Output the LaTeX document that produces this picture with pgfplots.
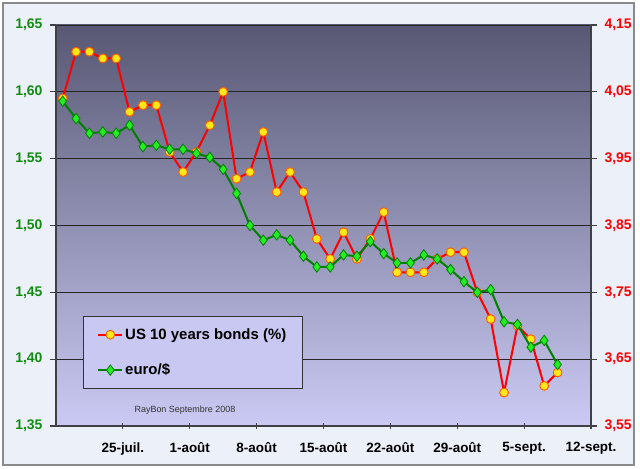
\documentclass[border=0pt]{standalone}
\usepackage{pgfplots}
\pgfplotsset{compat=1.18}
\usepackage{fontspec}
\setmainfont{Liberation Sans}
\definecolor{bgtop}{HTML}{585874}
\definecolor{bgbot}{HTML}{CACAF4}
\definecolor{snow}{HTML}{ECF0F8}
\definecolor{frame}{HTML}{8A8A8A}
\definecolor{axisline}{HTML}{404048}
\definecolor{dgreen}{HTML}{008000}
\definecolor{lgreen}{HTML}{22EE22}
\definecolor{mkyellow}{HTML}{FFE81A}
\definecolor{mkorange}{HTML}{FF5A00}
\definecolor{legfill}{HTML}{C8C8F2}
\definecolor{labgreen}{HTML}{138A13}

\pgfplotstableread{
x bonds
0.5 4.04
1.5 4.11
2.5 4.11
3.5 4.10
4.5 4.10
5.5 4.02
6.5 4.03
7.5 4.03
8.5 3.96
9.5 3.93
10.5 3.96
11.5 4.00
12.5 4.05
13.5 3.92
14.5 3.93
15.5 3.99
16.5 3.90
17.5 3.93
18.5 3.90
19.5 3.83
20.5 3.80
21.5 3.84
22.5 3.80
23.5 3.83
24.5 3.87
25.5 3.78
26.5 3.78
27.5 3.78
28.5 3.80
29.5 3.81
30.5 3.81
31.5 3.75
32.5 3.71
33.5 3.60
34.5 3.70
35.5 3.68
36.5 3.61
37.5 3.63
}\bondtable

\pgfplotstableread{
x euro
0.5 1.593
1.5 1.580
2.5 1.569
3.5 1.570
4.5 1.569
5.5 1.575
6.5 1.559
7.5 1.560
8.5 1.557
9.5 1.557
10.5 1.554
11.5 1.551
12.5 1.542
13.5 1.524
14.5 1.500
15.5 1.489
16.5 1.493
17.5 1.489
18.5 1.477
19.5 1.469
20.5 1.469
21.5 1.478
22.5 1.477
23.5 1.488
24.5 1.479
25.5 1.472
26.5 1.472
27.5 1.478
28.5 1.475
29.5 1.467
30.5 1.458
31.5 1.450
32.5 1.452
33.5 1.428
34.5 1.426
35.5 1.409
36.5 1.414
37.5 1.396
}\eurotable

\begin{document}
\begin{tikzpicture}
\useasboundingbox (-56bp,-43bp) rectangle (584bp,426bp);
\fill[white] (-56bp,-43bp) rectangle (584bp,426bp);
\fill[snow] (-53bp,-39bp) rectangle (578bp,423bp);
\draw[frame, line width=2.5bp] (-53bp,-39bp) rectangle (578bp,423bp);

\begin{axis}[
  at={(0,0)}, anchor=south west,
  scale only axis, width=535bp, height=401bp,
  xmin=0, xmax=40, ymin=3.55, ymax=4.15,
  axis x line*=bottom, axis y line*=right,
  axis line style={-, axisline, line width=1.3bp},
  axis background/.style={top color=bgtop, bottom color=bgbot},
  xtick={5,10,15,20,25,30,35,40},
  xticklabels={25-juil.,1-août,8-août,15-août,22-août,29-août,5-sept.,12-sept.},
  xtick align=center,
  ytick={3.55,3.65,3.75,3.85,3.95,4.05,4.15},
  ytick align=outside,
  major tick length=6bp,
  tick style={axisline, line width=1.2bp},
  ymajorgrids,
  grid style={black!85, line width=0.9bp},
  /pgf/number format/assume math mode=true,
  /pgf/number format/.cd, fixed, fixed zerofill, precision=2, use comma, /pgfplots/.cd,
  xticklabel style={font=\bfseries\fontsize{13.5}{14}\selectfont, black, yshift=-10bp},
  yticklabel style={font=\bfseries\fontsize{14}{14}\selectfont, red, xshift=4bp},
  legend cell align=left,
  legend style={at={(0.0505,0.274)}, anchor=north west, fill=legfill, draw=black!80, line width=0.8bp,
    font=\bfseries\fontsize{15}{16}\selectfont, row sep=19bp, inner xsep=14bp, inner ysep=10bp},
  legend image code/.code={\draw[mark repeat=2,mark phase=2,#1] plot coordinates {(0cm,0cm) (0.42cm,0cm) (0.84cm,0cm)};},
]
\addplot[red, line width=2bp, mark=*, mark size=4.4bp,
  mark options={fill=mkyellow, draw=mkorange, line width=0.9bp}] table[x=x,y=bonds] {\bondtable};
\addlegendentry{US 10 years bonds (\%)}
\addlegendimage{dgreen, line width=2bp, mark=diamond*, mark size=5.2bp,
  mark options={fill=lgreen, draw=dgreen, line width=0.8bp}}
\addlegendentry{euro/\$}
\node[font=\fontsize{9}{10}\selectfont, text=black!80] at (rel axis cs:0.241,0.04) {RayBon Septembre 2008};
\end{axis}

\begin{axis}[
  at={(0,0)}, anchor=south west,
  scale only axis, width=535bp, height=401bp,
  xmin=0, xmax=40, ymin=1.35, ymax=1.65,
  axis x line=none, axis y line*=left,
  axis line style={-, axisline, line width=1.3bp},
  ytick={1.35,1.40,1.45,1.50,1.55,1.60,1.65},
  ytick align=outside,
  major tick length=6bp,
  tick style={axisline, line width=1.2bp},
  /pgf/number format/assume math mode=true,
  /pgf/number format/.cd, fixed, fixed zerofill, precision=2, use comma, /pgfplots/.cd,
  yticklabel style={font=\bfseries\fontsize{14}{14}\selectfont, labgreen, xshift=-4bp},
]
\addplot[dgreen, line width=2bp, mark=diamond*, mark size=5.2bp,
  mark options={fill=lgreen, draw=dgreen, line width=0.8bp}] table[x=x,y=euro] {\eurotable};
\end{axis}
\end{tikzpicture}
\end{document}
